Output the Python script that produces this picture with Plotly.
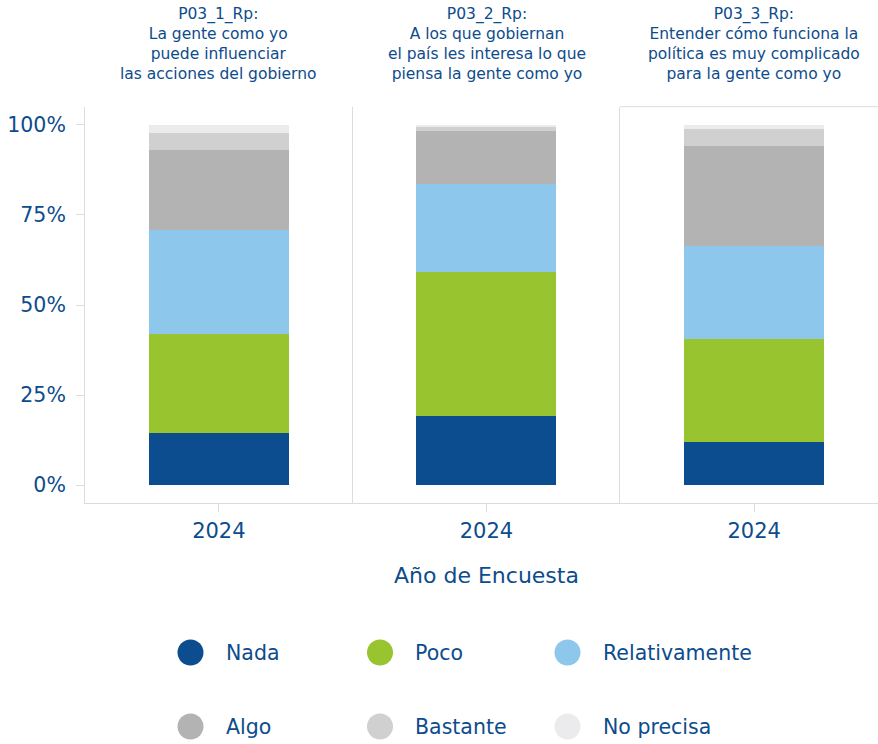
import plotly.graph_objects as go

# ---------------- data ----------------
years = ["2024"]
panel_titles = [
    "P03_1_Rp:<br>La gente como yo<br>puede influenciar<br>las acciones del gobierno",
    "P03_2_Rp:<br>A los que gobiernan<br>el país les interesa lo que<br>piensa la gente como yo",
    "P03_3_Rp:<br>Entender cómo funciona la<br>política es muy complicado<br>para la gente como yo",
]
categories = ["Nada", "Poco", "Relativamente", "Algo", "Bastante", "No precisa"]
nada = [14.5, 19.2, 12.0]
poco = [27.5, 39.9, 28.5]
relativamente = [28.7, 24.6, 25.8]
algo = [22.2, 14.7, 27.7]
bastante = [4.8, 1.1, 4.7]
no_precisa = [2.3, 0.5, 1.3]
y_ticks = [0, 25, 50, 75, 100]
y_ticklabels = ["0%", "25%", "50%", "75%", "100%"]
x_title = "Año de Encuesta"

series = [nada, poco, relativamente, algo, bastante, no_precisa]
colors = ["#0b4d8f", "#97c42f", "#8dc7eb", "#b3b3b3", "#d0d0d0", "#ebebed"]

# ---------------- layout helpers ----------------
W, H = 878, 744
FONT = "DejaVu Sans"
TXT = "#0d4c8c"
LINE = "#dcdcdc"

def px(x):
    return x / W

def py(y):
    return (H - y) / H

panel_px = [(85, 352.6), (352.6, 620.3), (620.3, 878)]
full_w = 267.7
plot_top, plot_bot = 106.7, 503.3

fig = go.Figure()

for p in range(3):
    ax = "" if p == 0 else str(p + 1)
    for name, vals, col in zip(categories, series, colors):
        fig.add_trace(go.Bar(
            x=years, y=[vals[p]], name=name, marker=dict(color=col, line=dict(width=0)),
            width=0.523, showlegend=False, xaxis="x" + ax, yaxis="y" + ax,
            hovertemplate=name + ": %{y:.1f}%<extra></extra>",
        ))

layout = dict(
    width=W, height=H, margin=dict(l=0, r=0, t=0, b=0),
    barmode="stack", plot_bgcolor="white", paper_bgcolor="white",
    font=dict(family=FONT, color=TXT),
    showlegend=False,
)

for p, (x0, x1) in enumerate(panel_px):
    ax = "" if p == 0 else str(p + 1)
    right = -0.5 + (x1 - x0) / full_w
    layout["xaxis" + ax] = dict(
        domain=[px(x0), px(x1)], anchor="y" + ax, type="category",
        range=[-0.5, right], showline=True, linecolor=LINE, linewidth=1,
        ticks="outside", ticklen=8, tickcolor=LINE, showgrid=False, zeroline=False,
        tickfont=dict(size=21, color=TXT, family=FONT), fixedrange=True,
    )
    ydict = dict(
        domain=[py(plot_bot), py(plot_top)], anchor="x" + ax, range=[-5, 105],
        showline=True, linecolor=LINE, linewidth=1, showgrid=False, zeroline=False,
        fixedrange=True,
    )
    if p == 0:
        ydict.update(tickvals=y_ticks, ticktext=y_ticklabels, ticks="outside",
                     ticklen=8, tickcolor=LINE, ticklabelstandoff=6,
                     tickfont=dict(size=20.5, color=TXT, family=FONT))
    else:
        ydict.update(showticklabels=False, ticks="", matches="y")
    layout["yaxis" + ax] = ydict

fig.update_layout(**layout)

annotations = []
centers = [218.6, 486.7, 754.0]
for c, t in zip(centers, panel_titles):
    annotations.append(dict(
        text=t, x=px(c), y=py(43.5), xref="paper", yref="paper",
        xanchor="center", yanchor="middle", showarrow=False, align="center",
        font=dict(size=15.5, color=TXT, family=FONT),
    ))
annotations.append(dict(
    text=x_title, x=px(486.5), y=py(575), xref="paper", yref="paper",
    xanchor="center", yanchor="middle", showarrow=False,
    font=dict(size=22, color=TXT, family=FONT),
))

shapes = [dict(type="line", xref="paper", yref="paper",
               x0=px(620.3), x1=px(878), y0=py(plot_top), y1=py(plot_top),
               line=dict(color=LINE, width=1))]

# legend (circles + labels)
leg_cx = [190.5, 380.0, 567.5]
leg_cy = [652.5, 726.5]
r = 13
for i, (name, col) in enumerate(zip(categories, colors)):
    cx = leg_cx[i % 3]
    cy = leg_cy[i // 3]
    shapes.append(dict(type="circle", xref="paper", yref="paper",
                       x0=px(cx - r), x1=px(cx + r), y0=py(cy + r), y1=py(cy - r),
                       fillcolor=col, line=dict(width=0)))
    annotations.append(dict(
        text=name, x=px(cx + 33), y=py(cy), xref="paper", yref="paper",
        xanchor="left", yanchor="middle", showarrow=False,
        font=dict(size=20.5, color=TXT, family=FONT),
    ))

fig.update_layout(annotations=annotations, shapes=shapes)
fig.write_html(
    "out.html",
    config={"displayModeBar": False},
    post_script="document.body.style.margin='0';document.body.style.overflow='hidden';",
)
